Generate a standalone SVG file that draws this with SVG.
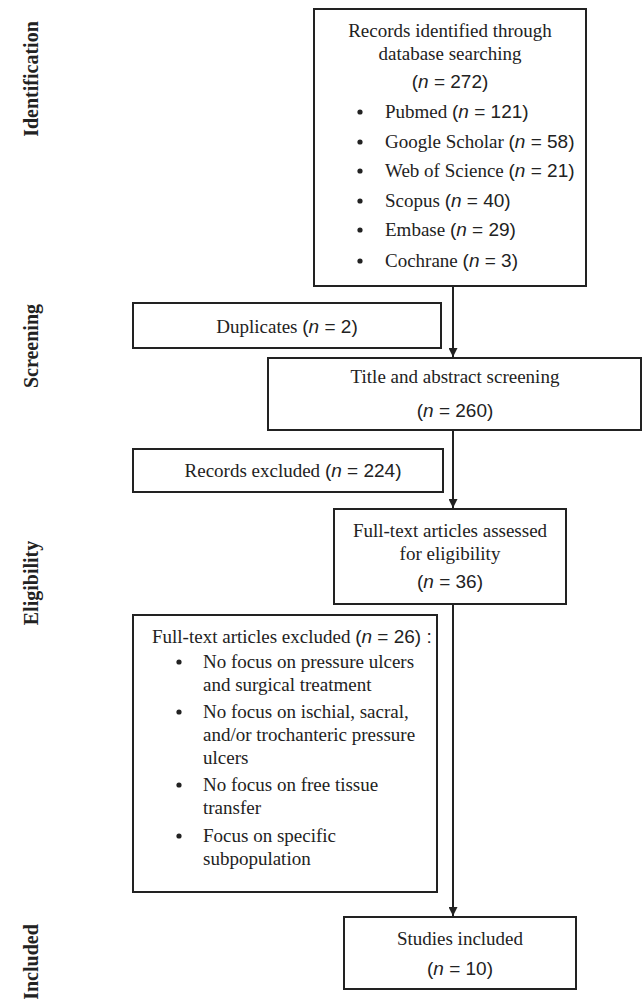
<svg xmlns="http://www.w3.org/2000/svg" width="643" height="999" viewBox="0 0 643 999">
<style>
.box{fill:#fff;stroke:#222;stroke-width:2}
.t{font-family:"Liberation Serif","Times New Roman",serif;font-size:19px;fill:#222}
.c{text-anchor:middle}
.n{font-family:"Liberation Sans",Arial,sans-serif}
.i{font-style:italic}
.b{fill:#222}
.side{font-family:"Liberation Serif","Times New Roman",serif;font-size:20px;font-weight:bold;fill:#222;text-anchor:middle}
.conn{stroke:#222;stroke-width:2;fill:none}
</style>
<defs>
<marker id="arr" markerWidth="9" markerHeight="9" refX="9" refY="4.5" orient="auto" markerUnits="userSpaceOnUse">
<path d="M0,0 L9,4.5 L0,9 z" fill="#222"/>
</marker>
</defs>
<g id="labels">
<text class="side" transform="translate(38,79) rotate(-90)">Identification</text>
<text class="side" transform="translate(38,346) rotate(-90)">Screening</text>
<text class="side" transform="translate(38,583) rotate(-90)">Eligibility</text>
<text class="side" transform="translate(38,962) rotate(-90)">Included</text>
</g>
<g id="connectors">
<line class="conn" x1="453" y1="286" x2="453" y2="357" marker-end="url(#arr)"/>
<line class="conn" x1="453" y1="430" x2="453" y2="508" marker-end="url(#arr)"/>
<line class="conn" x1="453" y1="604" x2="453" y2="916" marker-end="url(#arr)"/>
</g>
<g id="identified">
<rect class="box" x="314" y="9" width="272" height="277"/>
<text class="t c" x="450" y="37">Records identified through</text>
<text class="t c" x="450" y="60">database searching</text>
<text class="t c n" x="450" y="88">(<tspan class="i">n</tspan> = 272)</text>
<circle class="b" cx="360" cy="112" r="2.6"/>
<text class="t" x="385" y="118">Pubmed <tspan class="n">(<tspan class="i">n</tspan> = 121)</tspan></text>
<circle class="b" cx="360" cy="142" r="2.6"/>
<text class="t" x="385" y="148">Google Scholar <tspan class="n">(<tspan class="i">n</tspan> = 58)</tspan></text>
<circle class="b" cx="360" cy="171" r="2.6"/>
<text class="t" x="385" y="177">Web of Science <tspan class="n">(<tspan class="i">n</tspan> = 21)</tspan></text>
<circle class="b" cx="360" cy="201" r="2.6"/>
<text class="t" x="385" y="207">Scopus <tspan class="n">(<tspan class="i">n</tspan> = 40)</tspan></text>
<circle class="b" cx="360" cy="230" r="2.6"/>
<text class="t" x="385" y="236">Embase <tspan class="n">(<tspan class="i">n</tspan> = 29)</tspan></text>
<circle class="b" cx="360" cy="261" r="2.6"/>
<text class="t" x="385" y="267">Cochrane <tspan class="n">(<tspan class="i">n</tspan> = 3)</tspan></text>
</g>
<g id="duplicates">
<rect class="box" x="133" y="303" width="308" height="45"/>
<text class="t c" x="287" y="333">Duplicates <tspan class="n">(<tspan class="i">n</tspan> = 2)</tspan></text>
</g>
<g id="screening">
<rect class="box" x="268" y="358" width="373" height="72"/>
<text class="t c" x="455" y="383">Title and abstract screening</text>
<text class="t c n" x="455" y="417">(<tspan class="i">n</tspan> = 260)</text>
</g>
<g id="records-excluded">
<rect class="box" x="133" y="449" width="310" height="43"/>
<text class="t c" x="293" y="477">Records excluded <tspan class="n">(<tspan class="i">n</tspan> = 224)</tspan></text>
</g>
<g id="fulltext-assessed">
<rect class="box" x="334" y="509" width="232" height="95"/>
<text class="t c" x="450" y="537">Full-text articles assessed</text>
<text class="t c" x="450" y="560">for eligibility</text>
<text class="t c n" x="450" y="588">(<tspan class="i">n</tspan> = 36)</text>
</g>
<g id="fulltext-excluded">
<rect class="box" x="133" y="615" width="304" height="277"/>
<text class="t" x="152" y="643">Full-text articles excluded <tspan class="n">(<tspan class="i">n</tspan> = 26) :</tspan></text>
<circle class="b" cx="179" cy="662" r="2.6"/>
<text class="t" x="203" y="668">No focus on pressure ulcers</text>
<text class="t" x="203" y="691">and surgical treatment</text>
<circle class="b" cx="179" cy="712" r="2.6"/>
<text class="t" x="203" y="718">No focus on ischial, sacral,</text>
<text class="t" x="203" y="741">and/or trochanteric pressure</text>
<text class="t" x="203" y="764">ulcers</text>
<circle class="b" cx="179" cy="785" r="2.6"/>
<text class="t" x="203" y="791">No focus on free tissue</text>
<text class="t" x="203" y="814">transfer</text>
<circle class="b" cx="179" cy="836" r="2.6"/>
<text class="t" x="203" y="842">Focus on specific</text>
<text class="t" x="203" y="865">subpopulation</text>
</g>
<g id="included">
<rect class="box" x="344" y="917" width="232" height="72"/>
<text class="t c" x="460" y="945">Studies included</text>
<text class="t c n" x="460" y="975">(<tspan class="i">n</tspan> = 10)</text>
</g>
</svg>
